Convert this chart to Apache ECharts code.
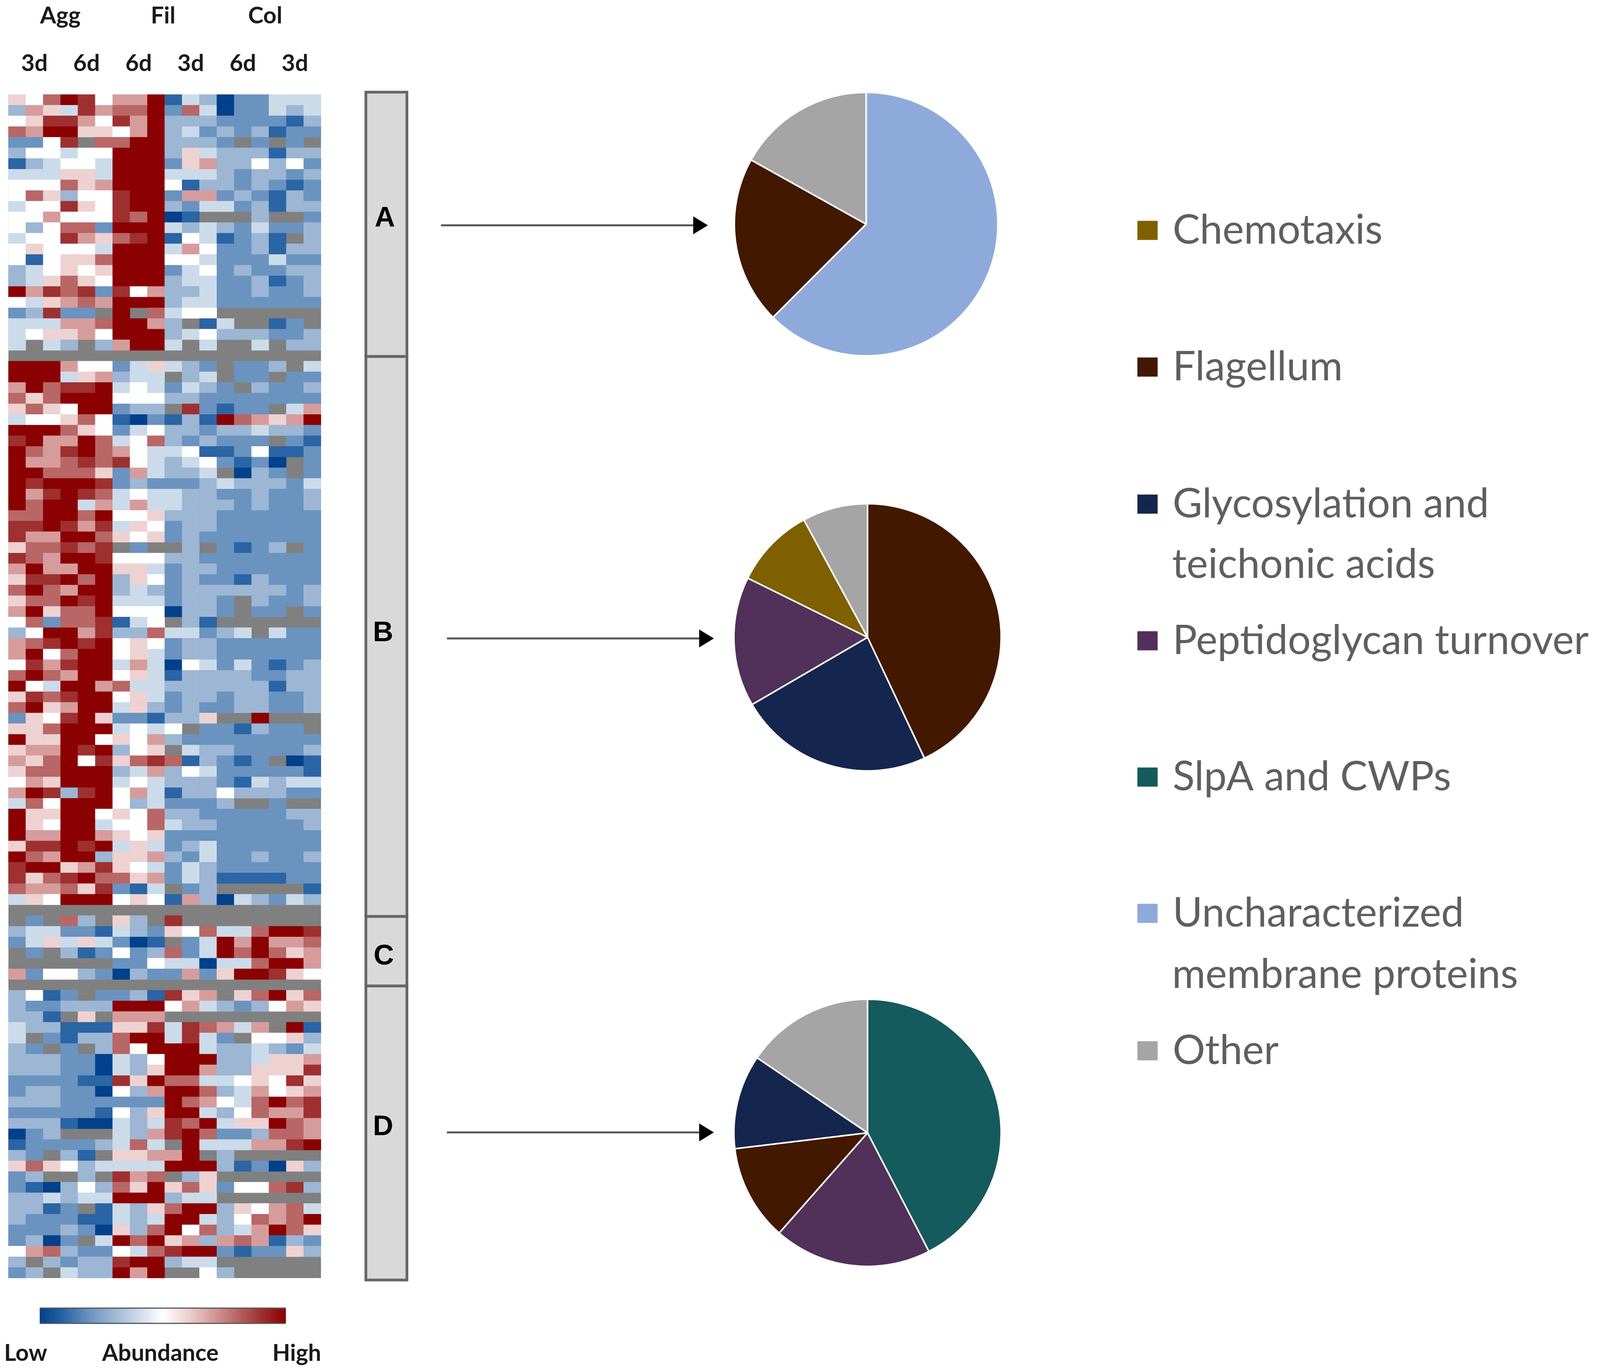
<!DOCTYPE html>
<html>
<head>
<meta charset="utf-8">
<style>html,body{margin:0;padding:0;background:#fff;overflow:hidden}#c{width:100vw;height:100vh}</style>
<script src="https://cdn.jsdelivr.net/npm/echarts@6/dist/echarts.min.js"></script>
</head>
<body>
<div id="c"></div>
<script>
// Abundance codes per cell: a (lowest) ... f (middle) ... k (highest), x = no value
const levelCodes = 'abcdefghijk';
const clusterA = [
"gfikjfhhkbedacceee","dhgejhiikcieaccede","fgjjhfjhkdddccccbd","ihkkggfhkdecdcdbcc","ccfjxiikkdddcxcxcx",
"dffeffkkkdgedddbdd","bdeffekkkcghddfdfc","eeeggekkkeeedcddcd","fffighkkkfbddcdcbc","figdffjkkchhcdcbdc",
"effjgfjkkdceecdbdd","ffhfffjikabxxxdxxc","fdfiickkkededceccd","effjhgijkbfebcdbxd","fgfffekkkehfccdbdd",
"fbfggikkkffecccecc","defgfgkkkcefcdccdd","degigfkkkdeeccdbcd","khjijcjfhddeccdccd","feghihkkkdeecccccc",
"cdjccxkxieffxxxxxx","eeehhikkhdxbexxbcx","efgghfkkkdefdddccd","exedxdhkkexexxexdd","xxxxxxxxxxxxxxxxxx"];
const clusterB = [
"kkkhffcegedcxccdxe","kkkeghdeexdexccxcc","hkijjkefecedcxdccd","igikkkfffddccccccc","gigfkkcddxjcbccxeh",
"effgifbacbdbkihghk","kkkigfcefddcddeddc","jkhhkiefidcdcccxcb","kihjkihfeefbbcfbbc","khhijijfedefcbcaxc",
"kkiiigcheddexadcxc","kjkkkjcdcccdedddce","khjkjiefeeddccdccd","kikkeheheedddcdccd","iikkikffgdddcccccc",
"jjkjhjegfcddcccccc","jhhkkigfgcdccccccc","giijijxcxxdxcbcdxc","jihkkjfffddccccccc","hkhhkkggecddcccccc",
"gjjkikdgfcdccbdccc","ikihkkdedcddddddcd","giikjkeeecddcxdccd","hkgiikfffaddcxccxc","ficiijbefxdbxxxxxx",
"dfkkhjddieecdexecc","hijkjkfgfcddcccccc","hkfikkfgecddcccccc","fjhjkkeheafececbcd","ikihkkfgebddddccdd",
"kfekkhieeddddddbdd","gjijkkfgecddcddccd","ikghkkegdcdccddccd","cgfjkgccbddgxxkxxx","ggikkkefefxccbdccx",
"kggkkfgfhdcccccccc","ghhkjkdfgxeddccccd","hgikfjgijibdcbcxab","giikkkdehdfecccccb","fhgkkkefedddcbedee",
"hkjdjkfhebddfdddcc","eifkkkfdecccdxxcxx","kggkkfgfiddcccccdd","kgfkkeffieddcccccd","khhkkhgfgccccccccc",
"gjjkjkegecdecccccc","kihkkdgghdceccdccd","jkkghjgfecedcccccc","jgijkiighcedbbbbcc","ihhigjcbexcdxxxxxb",
"egfkkkfgfbhdaedced","xxxxxxxxxxxxxxxxxx"];
const clusterC = [
"xcxidxgdxjxxxxxxxx","deeccbedcgfieeikkj","cegegecabxcekhkhhi","xcxdbcfcdicekikigh","xxxxxxccfeeaeeikkh",
"hcffdcadcchcgkkjgf","xxxxxxxxxxxxxxxxxx"];
const clusterD = [
"dfbcxccdbjghxgikgi","dccdddkkkfhedcdfhg","ddbxgxhhhxxxxxxxxx","eddbbbggjejihehxkb","excbddikkejecxffgd",
"dcxcxdifkkkeddedce","dddccaedfkkkddeggh","dddccaedgkkhddgggj","ccccbbjgkiieefgfjg","cddccafdhkkidehfgh",
"dddcccccckihfeikij","cccccbfdgkkedfihhj","dddbaaedejikeggkih","acdxxxedhjkiccdiih","bccccdeiexkeeehhjk",
"dcxdbxgghhkxdxxxxx","gigfdeeeekkkdbcagd","cdxxdxjhixdgxxxxxx","cbadfdigkgigcffijd","ddedeekkkdeexxxxxx",
"ddbcxbedgikkdgfhie","dcccbbedekkedfihik","cccdcagdikfidehkig","cdacxekikghdhihbdc","fhidccfeijkkcbccgd",
"dxdcddjkkdeexxxxxx","cdxeddkhkxxfdxxxxx"];

const dayLabels = ['','3d','','','6d','','','6d','','','3d','','','6d','','','3d',''];
const groupLabels = ['Agg','Fil','Col'];
const scaleLabels = ['Low','Abundance','High'];
const clusterLabels = ['A','B','C','D'];
const heatColors = ['#00408c','#2a65a5','#6a93c0','#9cb6d4','#ccdbea','#ffffff','#eed2d2','#d69c9c','#b96666','#9f3030','#8b0000'];

const legendNames = ['Chemotaxis','Flagellum','Glycosylation and teichonic acids','Peptidoglycan turnover','SlpA and CWPs','Uncharacterized membrane proteins','Other'];
const legendColors = ['#7f6000','#431800','#14264d','#51305a','#155a5c','#8eaadb','#a5a5a5'];

const pieANames = ['Uncharacterized membrane proteins','Flagellum','Other'];
const pieAValues = [62.5,20.6,16.9];
const pieBNames = ['Flagellum','Glycosylation and teichonic acids','Peptidoglycan turnover','Chemotaxis','Other'];
const pieBValues = [43,23.6,15.7,9.8,7.9];
const pieCNames = ['SlpA and CWPs','Peptidoglycan turnover','Flagellum','Glycosylation and teichonic acids','Other'];
const pieCValues = [42.4,19.1,11.6,11.4,15.5];

// The browser window may be narrower than the reference, so the layout follows the real window.
const W = window.innerWidth, H = window.innerHeight;
const sx = W / 4561, sy = H / 3511, sm = Math.sqrt(sx * sy);
const X = v => v * sx, Y = v => v * sy, F = v => v * sx;

const rows = clusterA.concat(clusterB, clusterC, clusterD);
const cells = [];
rows.forEach((r, y) => {
  r.split('').forEach((ch, x) => {
    if (ch !== 'x') cells.push([x, y, levelCodes.indexOf(ch) - 5]);
  });
});
const colorOf = n => legendColors[legendNames.indexOf(n)];
const pieData = (names, vals) => names.map((n, i) => ({name: n, value: vals[i], itemStyle: {color: colorOf(n)}}));
const pie = (names, vals, cx, cy, r) => ({
  type: 'pie', center: [X(cx), Y(cy)], radius: [0, r * sm], startAngle: 90, clockwise: true,
  label: {show: false}, labelLine: {show: false}, silent: true, animation: false,
  itemStyle: {borderColor: '#fff', borderWidth: 4},
  data: pieData(names, vals)
});

const boldSize = F(66);
const bold = 'bold ' + boldSize + 'px Lato';
const txt = (t, x, y, font, fill) => ({type: 'text', style: {text: t, x: X(x), y: Y(y), font, fill: fill || '#1a1a1a', textAlign: 'center', textVerticalAlign: 'middle'}});
const graphics = [];
[172, 465, 756].forEach((x, i) => graphics.push(txt(groupLabels[i], x, 41, bold)));
[73, 457, 846].forEach((x, i) => graphics.push(txt(scaleLabels[i], x, 3466, bold)));
// cluster bracket
[[236, 913], [913, 2347], [2347, 2525], [2525, 3278]].forEach(b => graphics.push({
  type: 'rect', shape: {x: X(1043), y: Y(b[0]), width: X(117), height: Y(b[1] - b[0])},
  style: {fill: '#d9d9d9', stroke: '#666', lineWidth: 7}
}));
[[1097, 560], [1092, 1622], [1094, 2450], [1092, 2887]].forEach((p, i) =>
  graphics.push(txt(clusterLabels[i], p[0], p[1], 'bold ' + F(80) + 'px "Liberation Sans"', '#000')));
// arrows
[[1257, 1976, 2018, 577], [1274, 1993, 2035, 1635], [1274, 1993, 2035, 2900]].forEach(a => {
  graphics.push({type: 'line', shape: {x1: X(a[0]), y1: Y(a[3]), x2: X(a[1]), y2: Y(a[3])}, style: {stroke: '#555', lineWidth: 5}});
  graphics.push({type: 'polygon', shape: {points: [[X(a[1]), Y(a[3] - 23)], [X(a[2]), Y(a[3])], [X(a[1]), Y(a[3] + 23)]]}, style: {fill: '#000'}});
});
// colour bar edges
[3350, 3389].forEach(y => graphics.push({type: 'line', z: 20, shape: {x1: X(113), y1: Y(y), x2: X(815), y2: Y(y)}, style: {stroke: '#555', lineWidth: 3}}));
// second lines of the wrapped legend entries
const legendFont = F(116);
[['teichonic acids', 1446], ['membrane proteins', 2496]].forEach(l => graphics.push({
  type: 'text', style: {text: l[0], x: X(3341), y: Y(l[1]), font: legendFont + 'px Lato', fill: '#5f5f5f', textAlign: 'left', textVerticalAlign: 'middle'}
}));

const legendY = [590, 940, 1291, 1641, 1990, 2339, 2691];
const legendLine = F(140);
const legends = legendNames.map((n, i) => ({
  data: [n], left: X(3240), top: Y(legendY[i]) - legendLine / 2, padding: 0, icon: 'rect',
  itemWidth: F(60), itemHeight: F(57), selectedMode: false, orient: 'horizontal',
  formatter: s => s.replace(' teichonic acids', '').replace(' membrane proteins', ''),
  textStyle: {fontFamily: 'Lato', fontSize: legendFont, lineHeight: legendLine, color: '#5f5f5f', padding: [0, 0, 0, F(36)]}
}));

const chart = echarts.init(document.getElementById('c'));
chart.setOption({
  animation: false,
  backgroundColor: '#fff',
  grid: {left: X(24), top: Y(242), width: X(891), height: Y(3031), show: true, backgroundColor: '#808080', borderWidth: 0},
  xAxis: {
    type: 'category', position: 'top', data: dayLabels, splitArea: {show: false}, splitLine: {show: false},
    axisLine: {show: false}, axisTick: {show: false},
    axisLabel: {show: true, interval: 0, margin: Y(79) - boldSize / 2, fontFamily: 'Lato', fontWeight: 'bold', fontSize: boldSize, color: '#1a1a1a'}
  },
  yAxis: {type: 'category', inverse: true, show: false, data: rows.map((_, i) => i)},
  visualMap: {
    type: 'continuous', seriesIndex: 0, min: -5, max: 5, orient: 'horizontal', left: X(113), top: Y(3350),
    itemWidth: Y(39), itemHeight: X(702), padding: 0, calculable: false, showLabel: false, realtime: false,
    inRange: {color: heatColors}, hoverLink: false, textStyle: {fontSize: 1, color: 'rgba(0,0,0,0)'}
  },
  legend: legends,
  graphic: {elements: graphics},
  series: [
    {type: 'heatmap', data: cells, progressive: 0, animation: false, silent: true, itemStyle: {borderWidth: 0}},
    pie(pieANames, pieAValues, 2469, 574, 356),
    pie(pieBNames, pieBValues, 2473, 1632, 361),
    pie(pieCNames, pieCValues, 2473, 2901, 361)
  ]
});
</script>
</body>
</html>
